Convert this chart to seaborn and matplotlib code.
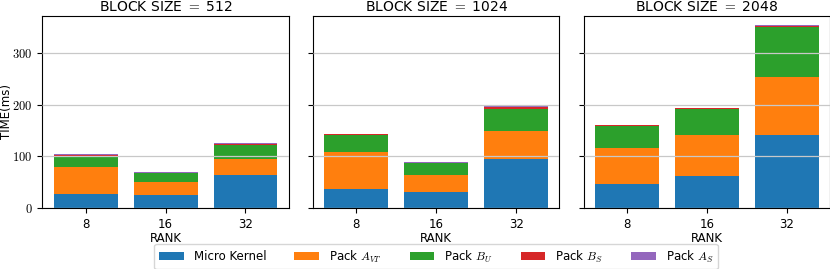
import matplotlib
matplotlib.use('Agg')
import matplotlib.pyplot as plt
from matplotlib.patches import Patch
import numpy as np
import pandas as pd
import seaborn as sns

plt.rcParams['mathtext.fontset'] = 'cm'
plt.rcParams['font.family'] = ['DejaVu Sans']

# Data (ms)
block_sizes = [512, 1024, 2048]
ranks = ['8', '16', '32']
components = ['Micro Kernel', r'Pack $A_{VT}$', r'Pack $B_U$', r'Pack $B_S$', r'Pack $A_S$']
colors = ['#1f77b4', '#ff7f0e', '#2ca02c', '#d62728', '#9467bd']
y_ticks = [0, 100, 200, 300]

micro_kernel = {512: [27, 24.5, 64.5], 1024: [36.8, 30.4, 95.6], 2048: [47, 62.6, 142]}
pack_avt = {512: [53, 25.5, 29.5], 1024: [71.7, 32.9, 53], 2048: [70, 78.9, 112.5]}
pack_bu = {512: [20, 17, 27.5], 1024: [33.5, 23.7, 43.9], 2048: [42.5, 50.5, 95.5]}
pack_bs = {512: [3, 0.8, 2.5], 1024: [0.5, 0.8, 2.5], 2048: [0.8, 1.0, 2.7]}
pack_as = {512: [2, 1.2, 2], 1024: [0.5, 1.2, 2.7], 2048: [0.7, 1.0, 1.8]}

fig, axes = plt.subplots(1, 3, figsize=(8.3, 2.69), dpi=100, sharey=True)
fig.subplots_adjust(left=0.051, right=1.0, bottom=0.227, top=0.942, wspace=0.0986)

for ax, bs in zip(axes, block_sizes):
    layers = [micro_kernel[bs], pack_avt[bs], pack_bu[bs], pack_bs[bs], pack_as[bs]]
    cum = np.cumsum(np.array(layers), axis=0)
    # draw cumulative totals from top to bottom so bars look stacked
    for i in range(len(layers) - 1, -1, -1):
        df = pd.DataFrame({'RANK': ranks, 'TIME': cum[i]})
        sns.barplot(data=df, x='RANK', y='TIME', color=colors[i], saturation=1,
                    width=0.8, ax=ax, linewidth=0)
    ax.set_xlim(-0.54, 2.54)
    ax.set_title(f'BLOCK SIZE $=$ {bs}', fontsize=10, pad=3)
    ax.set_xlabel('RANK', fontsize=8.5, labelpad=1)
    ax.set_ylabel('')
    ax.yaxis.grid(True, color='#c8c8c8', linewidth=0.9)
    ax.set_axisbelow(False)
    ax.tick_params(axis='x', labelsize=8.5)

axes[0].set_ylim(0, 372.5)
axes[0].set_yticks(y_ticks, [f'${v}$' for v in y_ticks], fontsize=9)
axes[0].set_ylabel('TIME(ms)', fontsize=8.5)
axes[0].yaxis.set_label_coords(-0.118, 0.5)

handles = [Patch(facecolor=c, label=l) for c, l in zip(colors, components)]
fig.legend(handles=handles, loc='center', bbox_to_anchor=(436 / 830, 1 - 256.5 / 269),
           ncol=5, fontsize=8.5, frameon=True, handlelength=2.1, columnspacing=2.35,
           borderpad=0.4, handletextpad=0.85)

fig.savefig('out.png', dpi=100)
